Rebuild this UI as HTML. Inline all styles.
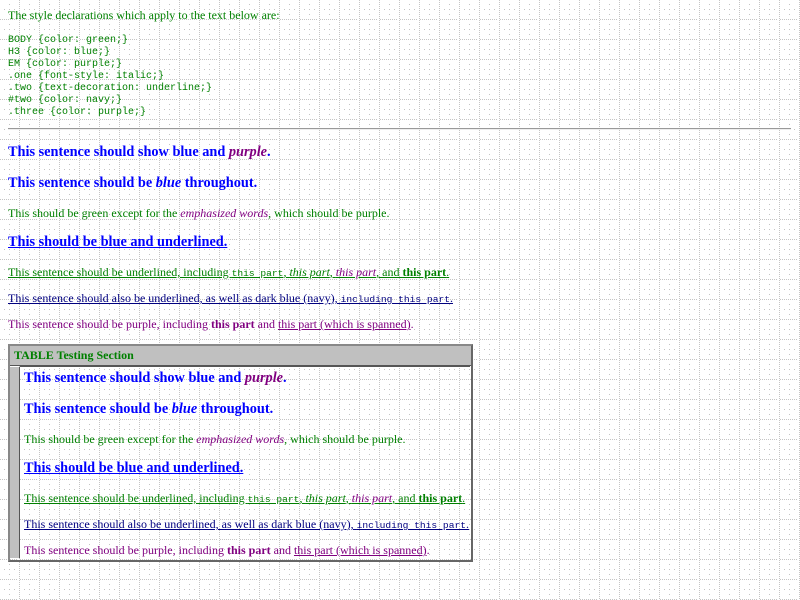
<!DOCTYPE html>
<html><head><style>
html,body{margin:0;padding:0;width:800px;height:600px;overflow:hidden;background:#fff;}
body{position:relative;font-family:"Liberation Serif",serif;color:green;}
.a{position:absolute;white-space:nowrap;left:8px;}
.p{font-size:12px;line-height:14px;}
.h{font-size:14.3px;font-weight:bold;color:blue;line-height:18px;}
.m{font-family:"Liberation Mono",monospace;font-size:9.6px;}
em{color:purple;}
.u{text-decoration:underline;}
.n{color:navy;}
.pu{color:purple;}
pre{margin:0;font-family:"Liberation Mono",monospace;font-size:10px;line-height:12px;white-space:pre !important;}
</style></head><body>
<svg width="800" height="600" style="position:absolute;left:0;top:0">
<defs><pattern id="g" width="20" height="20" patternUnits="userSpaceOnUse">
<g fill="#c4c4c4">
<rect x="19" y="0" width="1" height="1"/><rect x="19" y="2" width="1" height="1"/><rect x="19" y="4" width="1" height="1"/><rect x="19" y="6" width="1" height="1"/><rect x="19" y="8" width="1" height="1"/><rect x="19" y="10" width="1" height="1"/><rect x="19" y="12" width="1" height="1"/><rect x="19" y="14" width="1" height="1"/><rect x="19" y="16" width="1" height="1"/><rect x="19" y="18" width="1" height="1"/>
<rect y="19" x="0" width="1" height="1"/><rect y="19" x="2" width="1" height="1"/><rect y="19" x="4" width="1" height="1"/><rect y="19" x="6" width="1" height="1"/><rect y="19" x="8" width="1" height="1"/><rect y="19" x="10" width="1" height="1"/><rect y="19" x="12" width="1" height="1"/><rect y="19" x="14" width="1" height="1"/><rect y="19" x="16" width="1" height="1"/>
<rect x="9" y="4" width="1" height="1"/><rect x="4" y="9" width="1" height="1"/><rect x="9" y="9" width="1" height="1"/><rect x="14" y="9" width="1" height="1"/><rect x="9" y="14" width="1" height="1"/>
</g></pattern></defs>
<rect width="800" height="600" fill="url(#g)"/>
</svg>

<div class="a p" style="top:8px">The style declarations which apply to the text below are:</div>
<pre class="a" style="top:35px">BODY {color: green;}
H3 {color: blue;}
EM {color: purple;}
.one {font-style: italic;}
.two {text-decoration: underline;}
#two {color: navy;}
.three {color: purple;}</pre>
<div style="position:absolute;left:8px;top:128px;width:783px;height:0;border-top:1px solid #999;border-bottom:1px solid #eee;"></div>

<div class="a h" style="top:143px">This sentence should show blue and <em>purple</em>.</div>
<div class="a h" style="top:174px">This sentence should be <i>blue</i> throughout.</div>
<div class="a p" style="top:206px">This should be green except for the <em>emphasized words</em>, which should be purple.</div>
<div class="a h u" style="top:233px">This should be blue and underlined.</div>
<div class="a p u" style="top:265px">This sentence should be underlined, including <span class="m">this part</span>, <i>this part</i>, <em>this part</em>, and <b>this part</b>.</div>
<div class="a p u n" style="top:291px">This sentence should also be underlined, as well as dark blue (navy), <span class="m">including this part</span>.</div>
<div class="a p pu" style="top:317px">This sentence should be purple, including <b>this part</b> and <span class="u">this part (which is spanned)</span>.</div>

<div style="position:absolute;left:8px;top:344px;width:461px;height:214px;border:2px solid #666;border-top-color:#888;border-left-color:#888;"></div>
<div style="position:absolute;left:10px;top:346px;width:461px;height:19px;background:#c0c0c0;border-bottom:1px solid #555;"></div>
<div class="a" style="left:14px;top:347px;font-size:12px;font-weight:bold;line-height:16px;">TABLE Testing Section</div>
<div style="position:absolute;left:10px;top:367px;width:9px;height:191px;background:#c0c0c0;border-right:1px solid #555;"></div>
<div style="position:absolute;left:20px;top:366px;width:450px;height:1px;background:#555;"></div>

<div class="a h" style="left:24px;top:369px">This sentence should show blue and <em>purple</em>.</div>
<div class="a h" style="left:24px;top:400px">This sentence should be <i>blue</i> throughout.</div>
<div class="a p" style="left:24px;top:432px">This should be green except for the <em>emphasized words</em>, which should be purple.</div>
<div class="a h u" style="left:24px;top:459px">This should be blue and underlined.</div>
<div class="a p u" style="left:24px;top:491px">This sentence should be underlined, including <span class="m">this part</span>, <i>this part</i>, <em>this part</em>, and <b>this part</b>.</div>
<div class="a p u n" style="left:24px;top:517px">This sentence should also be underlined, as well as dark blue (navy), <span class="m">including this part</span>.</div>
<div class="a p pu" style="left:24px;top:543px">This sentence should be purple, including <b>this part</b> and <span class="u">this part (which is spanned)</span>.</div>
</body></html>
